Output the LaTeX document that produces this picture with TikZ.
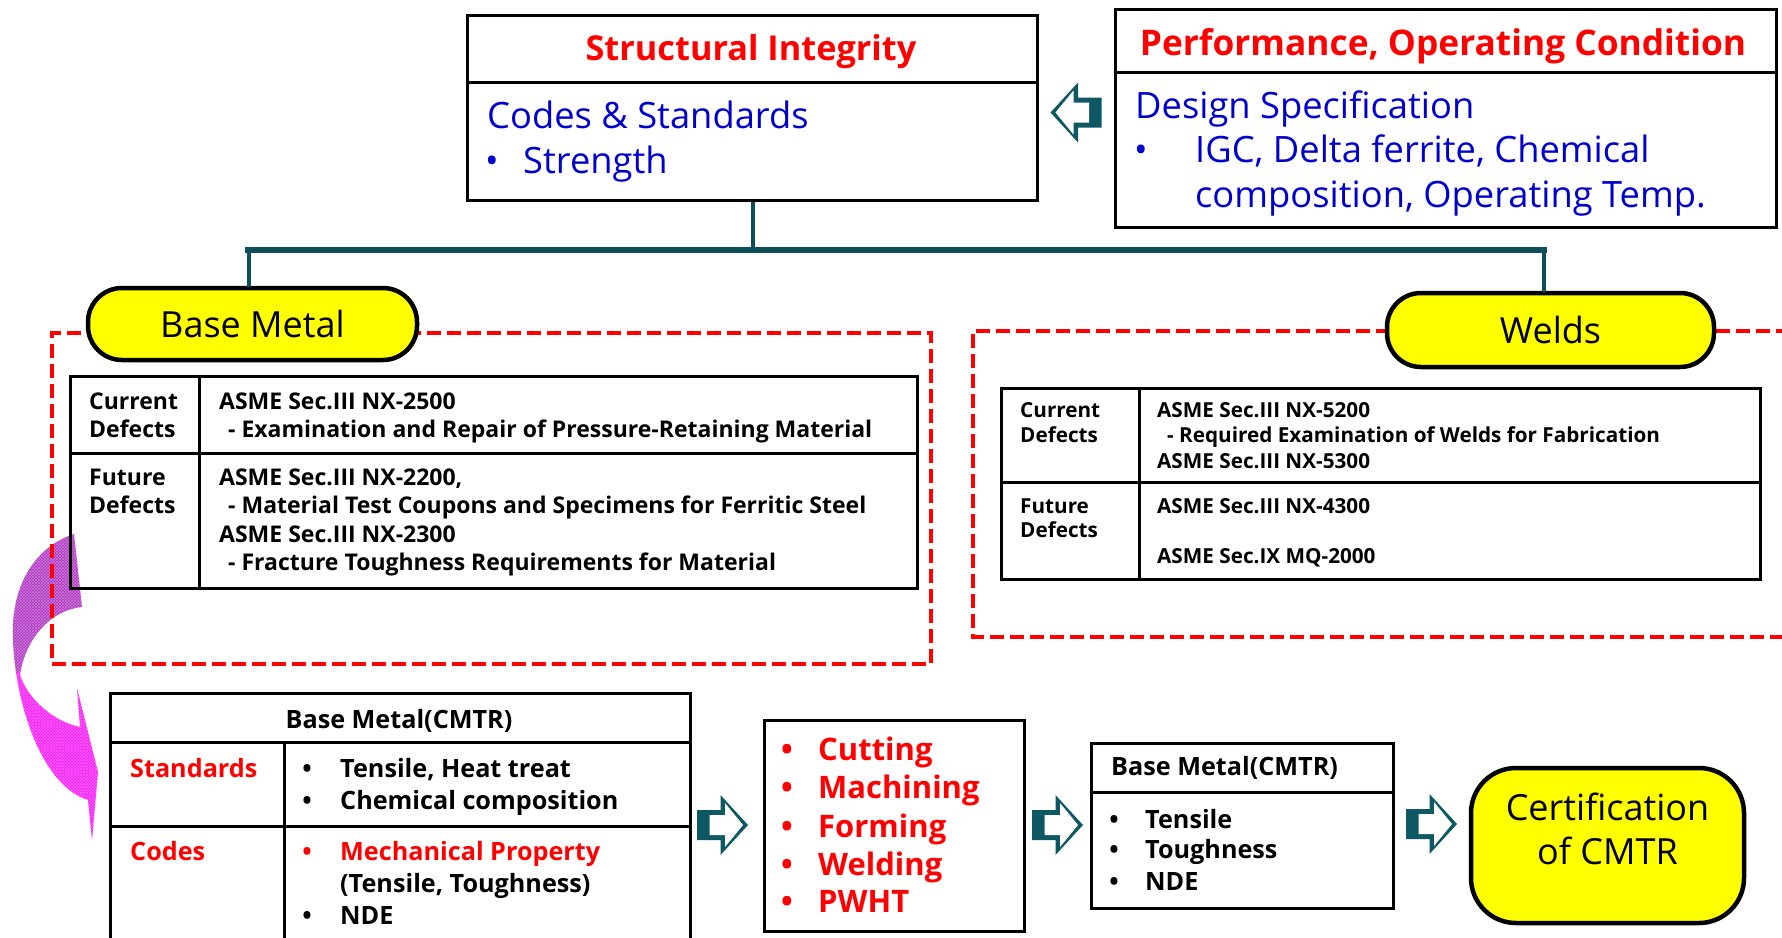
\documentclass[tikz,border=0pt]{standalone}
\usepackage{fontspec}
\setmainfont{Open Sans}
\usetikzlibrary{patterns,calc}
\definecolor{tealc}{RGB}{12,78,90}
\definecolor{teala}{RGB}{14,88,100}
\definecolor{blu}{RGB}{0,0,204}
\definecolor{rd}{RGB}{255,0,0}
\definecolor{yel}{RGB}{255,255,0}
\definecolor{magA}{RGB}{175,50,195}
\definecolor{magB}{RGB}{250,20,250}
\newcommand{\sz}[1]{\fontsize{#1}{#1}\selectfont}
\tikzset{
  boxs/.style={draw=black,line width=3pt,inner sep=0pt,anchor=north west},
  tline/.style={draw=black,line width=3pt},
  pill/.style={draw=black,line width=4.5pt,fill=yel,inner sep=0pt},
  reddash/.style={draw=rd,line width=4pt,dash pattern=on 14pt off 6pt,inner sep=0pt,anchor=north west},
  conn/.style={draw=tealc,line width=4pt},
  bus/.style={draw=tealc,line width=6.5pt,line cap=rect},
  tl/.style={anchor=base west,inner sep=0pt},
  tc/.style={anchor=base,inner sep=0pt},
  ltx/.style={tl,font=\sz{23}\bfseries},
  rtx/.style={tl,font=\sz{20.7}\bfseries},
  btx/.style={tl,font=\sz{25.2}\bfseries},
  ptx/.style={tl,font=\sz{31}\bfseries,text=rd},
  bluetx/.style={tl,font=\sz{36.3},text=blu},
  blockarr/.pic={
    \fill[teala] (-25.5,-15) -- (-2,-15) -- (-2,-30) -- (25.5,0) -- (-2,30) -- (-2,15) -- (-25.5,15) -- cycle;
    \fill[white] (-13,-10) -- (2.5,-10) -- (2.5,-22) -- (20.5,0) -- (2.5,22) -- (2.5,10) -- (-13,10) -- cycle;
  }
}
\begin{document}
\begin{tikzpicture}[x=1pt,y=-1pt]
\useasboundingbox[fill=white] (0,0) rectangle (1782,937);

% magenta curved arrow
\begin{scope}
\clip (74,534) .. controls (40,545) and (10,580) .. (13,640)
  .. controls (15,700) and (40,785) .. (88,800) -- (92,840) -- (98,772) -- (77,688) -- (80,727)
  .. controls (55,722) and (28,700) .. (20,675)
  .. controls (25,640) and (50,610) .. (82,607) -- cycle;
\fill[magA] (0,520) rectangle (120,672);
\fill[magB] (0,672) rectangle (120,850);
\fill[pattern=crosshatch,pattern color=white,opacity=0.35] (0,520) rectangle (120,850);
\end{scope}

% top boxes
\node[boxs,minimum width=570,minimum height=185] (si) at (466,14) {};
\draw[tline] (466,82) -- (1036,82);
\node[tc,font=\sz{34.3}\bfseries,text=rd] (sit) at (751,60) {Structural Integrity};
\node[bluetx] (sic) at (487,128) {Codes \& Standards};
\node[tc,font=\sz{36},text=blu] (sib) at (492,173) {•};
\node[bluetx] (sis) at (523,173) {Strength};

\node[boxs,minimum width=661,minimum height=218] (perf) at (1114,8) {};
\draw[tline] (1114,72) -- (1775,72);
\node[tc,font=\sz{35.3}\bfseries,text=rd] (pt) at (1443,55) {Performance, Operating Condition};
\node[bluetx] (pd) at (1135,118) {Design Specification};
\node[tc,font=\sz{36},text=blu] (pb) at (1141,162) {•};
\node[bluetx] (p1) at (1195,162) {IGC, Delta ferrite, Chemical};
\node[bluetx] (p2) at (1195,207) {composition, Operating Temp.};

\pic[xscale=-1] at (1076,112.5) {blockarr};

% dashed groups
\node[reddash,minimum width=879,minimum height=331] (gl) at (50,331) {};
\draw[draw=rd,line width=4pt,dash pattern=on 14pt off 6pt] (1790,331) -- (973,331) -- (973,637) -- (1790,637);

% left table
\node[boxs,minimum width=847,minimum height=212] (lt) at (69,375) {};
\draw[tline] (199,375) -- (199,587);
\draw[tline] (69,453) -- (916,453);
\node[ltx] (l1) at (89,409) {Current};
\node[ltx] (l2) at (89,437) {Defects};
\node[ltx] (l3) at (89,485) {Future};
\node[ltx] (l4) at (89,513) {Defects};
\node[ltx] (l5) at (219,409) {ASME Sec.III NX-2500};
\node[ltx] (l6) at (228,437) {- Examination and Repair of Pressure-Retaining Material};
\node[ltx] (l7) at (219,485) {ASME Sec.III NX-2200,};
\node[ltx] (l8) at (228,513) {- Material Test Coupons and Specimens for Ferritic Steel};
\node[ltx] (l9) at (219,542) {ASME Sec.III NX-2300};
\node[ltx] (l10) at (228,570) {- Fracture Toughness Requirements for Material};

% right table
\node[boxs,minimum width=759,minimum height=191] (rt) at (1000,387) {};
\draw[tline] (1139,387) -- (1139,578);
\draw[tline] (1000,482) -- (1759,482);
\node[rtx] (r1) at (1020,417) {Current};
\node[rtx] (r2) at (1020,442) {Defects};
\node[rtx] (r3) at (1020,513) {Future};
\node[rtx] (r4) at (1020,537) {Defects};
\node[rtx] (r5) at (1157,417) {ASME Sec.III NX-5200};
\node[rtx] (r6) at (1167,442) {- Required Examination of Welds for Fabrication};
\node[rtx] (r7) at (1157,468) {ASME Sec.III NX-5300};
\node[rtx] (r8) at (1157,513) {ASME Sec.III NX-4300};
\node[rtx] (r9) at (1157,563) {ASME Sec.IX MQ-2000};

% pills
\node[pill,minimum width=329,minimum height=72,rounded corners=34pt,font=\sz{36}] (bm) at (252.5,324) {Base Metal};
\node[pill,minimum width=327,minimum height=74,rounded corners=34pt,font=\sz{36}] (wd) at (1550.5,330) {Welds};

% tree connectors
\coordinate (jl) at ([xshift=-4pt]bm.north |- 0,250);
\coordinate (jr) at ([xshift=-7pt]wd.north |- 0,250);
\draw[conn] (si.south) -- (si.south |- jl);
\draw[bus] (jl) -- (jr);
\draw[conn] (jl) -- ([xshift=-4pt,yshift=-1pt]bm.north);
\draw[conn] (jr) -- ([xshift=-7pt,yshift=-1pt]wd.north);

% bottom table 1
\node[boxs,minimum width=580,minimum height=260] (t1) at (109,692) {};
\draw[tline] (109,742) -- (689,742);
\draw[tline] (284,742) -- (284,952);
\draw[tline] (109,826) -- (689,826);
\node[tc,font=\sz{25.2}\bfseries] (t1h) at (399,728) {Base Metal(CMTR)};
\node[btx,text=rd] (t1s) at (130,777) {Standards};
\node[btx,text=rd] (t1c) at (130,860) {Codes};
\node[tc,font=\sz{25}\bfseries] (b1) at (307,777) {•};
\node[btx] (t1a) at (340,777) {Tensile, Heat treat};
\node[tc,font=\sz{25}\bfseries] (b2) at (307,809) {•};
\node[btx] (t1b) at (340,809) {Chemical composition};
\node[tc,font=\sz{25}\bfseries,text=rd] (b3) at (307,860) {•};
\node[btx,text=rd] (t1m) at (340,860) {Mechanical Property};
\node[btx] (t1t) at (340,892) {(Tensile, Toughness)};
\node[tc,font=\sz{25}\bfseries] (b4) at (307,924) {•};
\node[btx] (t1n) at (340,924) {NDE};

\pic at (722.5,825) {blockarr};

% process box
\node[boxs,minimum width=260,minimum height=211] (proc) at (763,719) {};
\foreach \t/\y [count=\i] in {Cutting/760,Machining/798,Forming/837,Welding/875,PWHT/912}{
  \node[tc,font=\sz{31}\bfseries,text=rd] (pb\i) at (787,\y) {•};
  \node[ptx] (pr\i) at (818,\y) {\t};
}

\pic at (1057.5,825) {blockarr};

% third box
\node[boxs,minimum width=302,minimum height=165] (t3) at (1090,742) {};
\draw[tline] (1090,792) -- (1392,792);
\node[btx] (t3h) at (1111,775) {Base Metal(CMTR)};
\foreach \t/\y [count=\i] in {Tensile/828,Toughness/858,NDE/890}{
  \node[tc,font=\sz{25}\bfseries] (tb\i) at (1114,\y) {•};
  \node[btx] (tt\i) at (1145,\y) {\t};
}

\pic at (1431.5,824) {blockarr};

% certification pill
\node[pill,minimum width=273,minimum height=155,rounded corners=45pt] (cert) at (1607.5,845.5) {};
\node[tc,font=\sz{36}] (cert1) at (1607.5,820) {Certification};
\node[tc,font=\sz{36}] (cert2) at (1607.5,864) {of CMTR};
\end{tikzpicture}
\end{document}
